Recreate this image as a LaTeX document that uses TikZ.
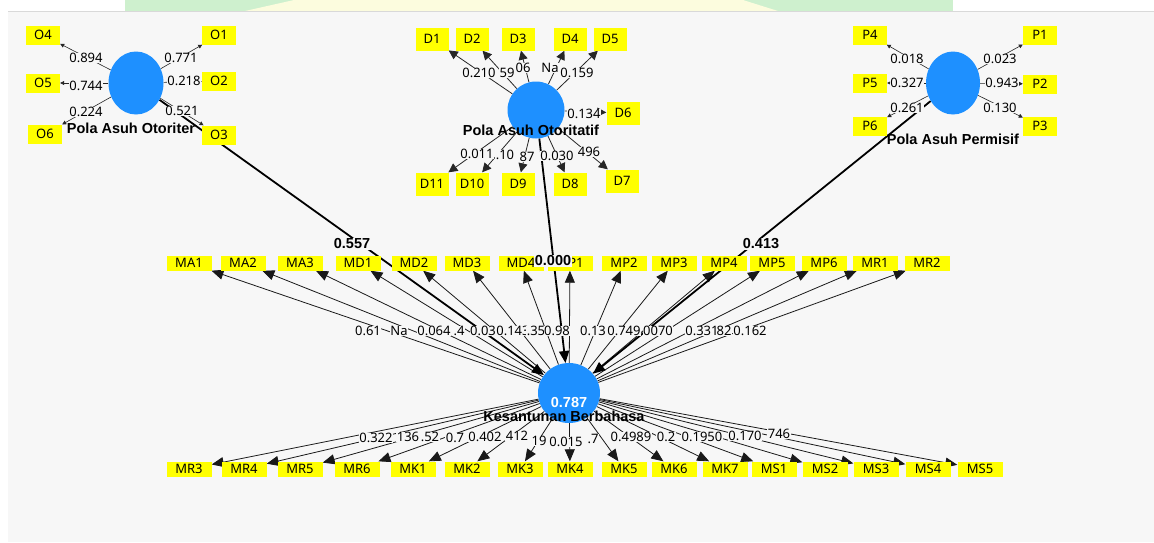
\documentclass[tikz,border=0pt]{standalone}
\usepackage{fontspec}
\setmainfont{Noto Sans}
\newfontfamily\namefont{Liberation Sans}
\usetikzlibrary{shapes.geometric,arrows.meta,positioning}

\definecolor{plsblue}{RGB}{30,144,255}
\definecolor{plsyellow}{RGB}{255,255,0}
\definecolor{canvas}{RGB}{247,247,247}
\definecolor{wmgreen}{RGB}{206,240,206}
\definecolor{wmyellow}{RGB}{252,252,222}

\pgfdeclarelayer{panel}
\pgfdeclarelayer{wires}
\pgfsetlayers{panel,wires,main}

\newcommand{\plsfont}{\fontsize{13}{15}\selectfont}
\newcommand{\plsbold}{\namefont\bfseries\fontsize{14.5}{16}\selectfont}

\tikzset{
  lv/.style={ellipse, fill=plsblue, inner sep=0pt},
  ind/.style={fill=plsyellow, inner sep=0pt, minimum width=45pt, minimum height=15pt, font=\plsfont},
  indS/.style={ind, minimum width=34pt, minimum height=19pt},
  indD/.style={ind, minimum width=33pt, minimum height=23pt},
  lbl/.style={fill=canvas, inner sep=0.5pt, font=\plsfont},
  pathlbl/.style={lbl, font=\plsbold},
  lvname/.style={inner sep=0pt, font=\plsbold},
  load/.style={draw=black!90, line width=0.8pt, -{Triangle[length=12pt,width=10pt]}},
  loadS/.style={draw=black!85, line width=0.6pt, -{Triangle[length=4pt,width=4pt]}},
  loadD/.style={draw=black!85, line width=0.8pt, -{Triangle[length=9pt,width=9pt]}},
  inner/.style={draw=black, line width=1.8pt, -{Triangle[length=12pt,width=10pt]}}
}

\begin{document}
\begin{tikzpicture}[x=1pt,y=-1pt]
  \useasboundingbox (0,0) rectangle (1154,542);
  \begin{pgfonlayer}{panel}
    \fill[white] (0,0) rectangle (1154,542);
    \fill[wmgreen] (125,0) -- (953,0) -- (953,11) -- (125,11) -- cycle;
    \fill[wmyellow] (294,0) -- (743,0) -- (778,11) -- (245,11) -- cycle;
    \fill[canvas] (8,11) rectangle (1154,542);
    \draw[black!15] (8,11) -- (1154,11);
  \end{pgfonlayer}

  % latent variables
  \node[lv, minimum width=55pt, minimum height=63pt] (otr) at (136,83) {};
  \node[lv, minimum width=57pt, minimum height=57pt] (ott) at (536,110) {};
  \node[lv, minimum width=54pt, minimum height=63pt] (prm) at (953,83) {};
  \node[lv, minimum width=62pt, minimum height=60pt] (kb) at (569,393) {};

  % indicators
  \foreach \n/\x/\y in {O4/43/35, O5/43/83, O6/45/134, O1/219/35, O2/219/81, O3/219/135}
    \node[indS] (\n) at (\x,\y) {\n};
  \foreach \n/\x/\y in {D1/432/39, D2/472/39, D3/518/39, D4/570/39, D5/610/39, D6/623/113,
                        D7/622/181, D8/570/184, D9/518/184, D10/472/184, D11/432/184}
    \node[indD] (\n) at (\x,\y) {\n};
  \foreach \n/\x/\y in {P4/870/35, P5/870/83, P6/870/126, P1/1040/35, P2/1040/84, P3/1040/126}
    \node[indS] (\n) at (\x,\y) {\n};
  \foreach \n/\x in {MA1/189, MA2/243, MA3/300, MD1/358, MD2/414, MD3/467, MD4/521, MP1/570,
                     MP2/624, MP3/674, MP4/724, MP5/772, MP6/824, MR1/875, MR2/927}
    \node[ind] (\n) at (\x,263) {\n};
  \foreach \n/\x in {MR3/189, MR4/244, MR5/300, MR6/357, MK1/413, MK2/467, MK3/520, MK4/570,
                     MK5/624, MK6/674, MK7/725, MS1/774, MS2/825, MS3/876, MS4/928, MS5/980}
    \node[ind] (\n) at (\x,469) {\n};

  % connectors
  \begin{pgfonlayer}{wires}
    \foreach \i in {1,...,6} \draw[loadS] (otr) -- (O\i);
    \foreach \i in {1,...,11} \draw[loadD] (ott) -- (D\i);
    \foreach \i in {1,...,6} \draw[loadS] (prm) -- (P\i);
    \foreach \n in {MA1,MA2,MA3,MD1,MD2,MD3,MD4,MP1,MP2,MP3,MP4,MP5,MP6,MR1,MR2,
                    MR3,MR4,MR5,MR6,MK1,MK2,MK3,MK4,MK5,MK6,MK7,MS1,MS2,MS3,MS4,MS5}
      \draw[load] (kb) -- (\n);
    \draw[inner] (otr) -- (kb);
    \draw[inner] (ott) -- (kb);
    \draw[inner] (prm) -- (kb);
  \end{pgfonlayer}

  % outer loadings
  \foreach \t/\x/\y [count=\k] in {0.894/86/58, 0.771/181/58, 0.744/86/86, 0.218/184/81,
                                   0.224/86/112, 0.521/182/111}
    \node[lbl] (lo\k) at (\x,\y) {\t};
  \foreach \t/\x/\y [count=\k] in {0.210/479/73, 59/507/73, 06/523/68, Na/550/68, 0.159/577/73,
                                   0.134/584/114, 0.011/477/154, .10/505/155, 87/527/157,
                                   0.030/557/156, 496/589/152}
    \node[lbl] (ld\k) at (\x,\y) {\t};
  \foreach \t/\x/\y [count=\k] in {0.018/907/59, 0.023/1000/59, 0.327/907/83, 0.943/1002/83,
                                   0.261/907/108, 0.130/1000/108}
    \node[lbl] (lp\k) at (\x,\y) {\t};
  \foreach \t/\x [count=\k] in {0.61/368, Na/399, 0.064/434, .4/459, 0.03/483, 0.143/513, .35/536,
                                0.98/557, 0.13/593, 0.749/624, 0070/658, 0.331/702, 82/724, 0.162/750}
    \node[lbl] (lt\k) at (\x,331) {\t};
  \foreach \t/\x/\y [count=\k] in {0.322/376/438, 136/408/437, .52/430/437, 0.7/455/438,
                                   0.402/485/437, 412/517/436, 19/539/441, 0.015/566/442,
                                   .7/593/439, 0.4989/631/437, 0.2/666/437, 0.1950/702/437,
                                   0.170/745/436, 746/779/434}
    \node[lbl] (lb\k) at (\x,\y) {\t};

  % names and path coefficients
  \node[lvname] (otrname) at (131,128) {Pola Asuh Otoriter};
  \node[lvname] (ottname) at (531,130) {Pola Asuh Otoritatif};
  \node[lvname] (prmname) at (953,139) {Pola Asuh Permisif};
  \node[lvname] (kbname) at (564,416) {Kesantunan Berbahasa};
  \node[lvname, text=white] (kbr2) at (569,402) {0.787};
  \node[pathlbl] (c1) at (352,244) {0.557};
  \node[pathlbl] (c2) at (553,261) {0.000};
  \node[pathlbl] (c3) at (761,244) {0.413};
\end{tikzpicture}
\end{document}
